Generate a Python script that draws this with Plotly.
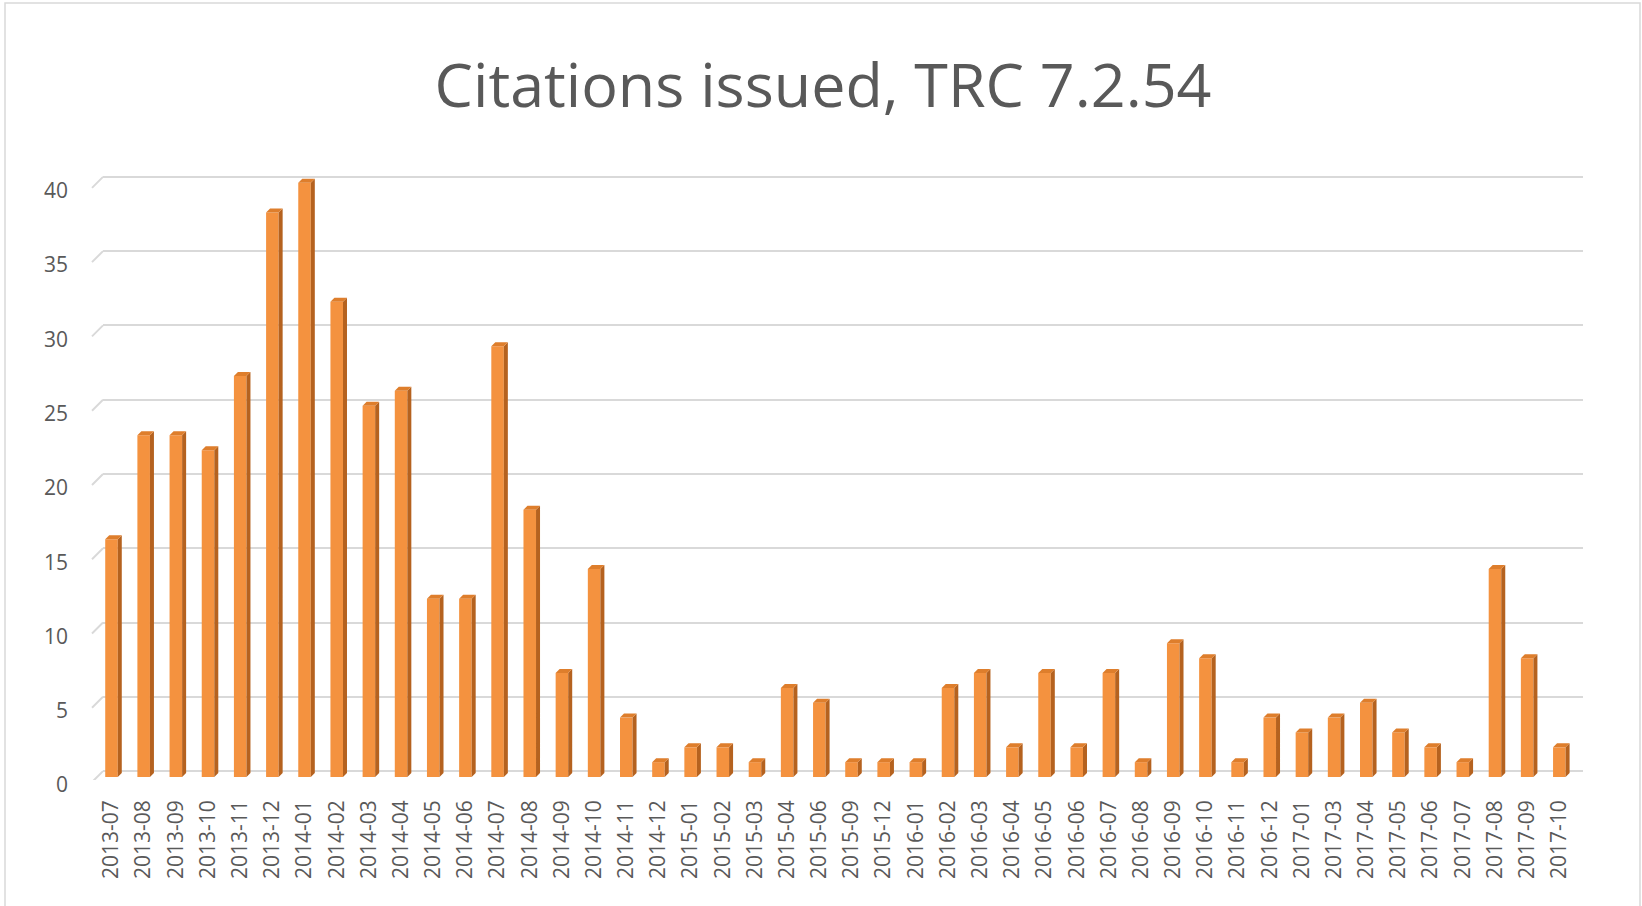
import plotly.graph_objects as go

months = ["2013-07","2013-08","2013-09","2013-10","2013-11","2013-12",
          "2014-01","2014-02","2014-03","2014-04","2014-05","2014-06",
          "2014-07","2014-08","2014-09","2014-10","2014-11","2014-12",
          "2015-01","2015-02","2015-03","2015-04","2015-06","2015-09","2015-12",
          "2016-01","2016-02","2016-03","2016-04","2016-05","2016-06",
          "2016-07","2016-08","2016-09","2016-10","2016-11","2016-12",
          "2017-01","2017-03","2017-04","2017-05","2017-06","2017-07",
          "2017-08","2017-09","2017-10"]
citations = [16,23,23,22,27,38,
             40,32,25,26,12,12,
             29,18,7,14,4,1,
             2,2,1,6,5,1,1,
             1,6,7,2,7,2,
             7,1,9,8,1,4,
             3,4,5,3,2,1,
             14,8,2]
y_ticks = [0,5,10,15,20,25,30,35,40]

W, H = 1642, 906
L, R, T, B = 103, 59, 162, 126
pw, ph = W - L - R, H - T - B
xr = [-0.264, len(months) - 0.264]
yr = [-0.6, 41.0]
px_x = (xr[1] - xr[0]) / pw
px_y = (yr[1] - yr[0]) / ph

bw = 0.39
shift = -0.4          # front face sits in front of the back wall
dx = 4 * px_x
dy = 4 * px_y
idx = list(range(len(months)))

front = "#F4923F"
side_c = "#B5621F"
top_c = "#DE7E2C"

fig = go.Figure()
fig.add_trace(go.Bar(x=idx, y=citations, base=[shift]*len(citations), width=bw,
                     marker=dict(color=front, line=dict(width=0)), showlegend=False,
                     hoverinfo="skip"))

sx, sy, tx, ty = [], [], [], []
for i, v in zip(idx, citations):
    l, r = i - bw/2, i + bw/2
    sx += [r, r + dx, r + dx, r, r, None]
    sy += [shift, shift + dy, v + shift + dy, v + shift, shift, None]
    tx += [l, l + dx, r + dx, r, l, None]
    ty += [v + shift, v + shift + dy, v + shift + dy, v + shift, v + shift, None]
fig.add_trace(go.Scatter(x=sx, y=sy, mode="lines", fill="toself", fillcolor=side_c,
                         line=dict(width=0, color=side_c), showlegend=False, hoverinfo="skip"))
fig.add_trace(go.Scatter(x=tx, y=ty, mode="lines", fill="toself", fillcolor=top_c,
                         line=dict(width=0, color=top_c), showlegend=False, hoverinfo="skip"))

shapes = []
for t in y_ticks:
    shapes.append(dict(type="line", xref="paper", yref="y",
                       x0=-11/pw, y0=t - 11*px_y, x1=0, y1=t,
                       line=dict(color="#D9D9D9", width=2)))
shapes.append(dict(type="rect", xref="paper", yref="paper",
                   x0=(5 - L)/pw, x1=(1640 - L)/pw,
                   y0=(H - B - 940)/ph, y1=(H - B - 3)/ph,
                   line=dict(color="#D9D9D9", width=1.5), fillcolor="rgba(0,0,0,0)"))

fig.update_layout(
    width=W, height=H,
    margin=dict(l=L, r=R, t=T, b=B, autoexpand=False),
    paper_bgcolor="white", plot_bgcolor="white",
    title=dict(text="Citations issued, TRC 7.2.54", x=823/W, xanchor="center",
               y=1 - 86/H, yanchor="middle",
               font=dict(family="Open Sans", size=61, color="#595959")),
    xaxis=dict(range=xr, tickmode="array", tickvals=idx, ticktext=months,
               tickangle=-90, showgrid=False, zeroline=False, showline=False,
               ticklabelstandoff=15,
               tickfont=dict(family="Open Sans", size=21, color="#595959")),
    yaxis=dict(range=yr, tickmode="array", tickvals=y_ticks,
               showgrid=True, gridcolor="#D9D9D9", gridwidth=2, zeroline=False,
               showline=False, ticklabelstandoff=34, ticklabelshift=14,
               tickfont=dict(family="Open Sans", size=21, color="#595959")),
    shapes=shapes,
)

fig.write_html("out.html", post_script="document.body.style.margin='0';",
               config={"displayModeBar": False})
